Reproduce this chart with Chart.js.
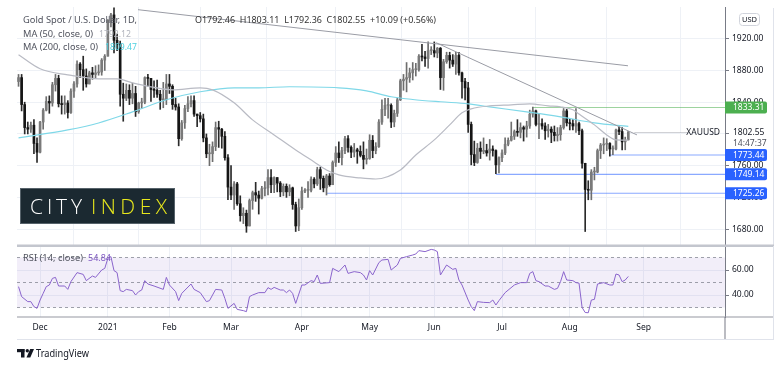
<!DOCTYPE html>
<html>
<head>
<meta charset="utf-8">
<title>Gold Spot / U.S. Dollar, 1D</title>
<script src="https://cdn.jsdelivr.net/npm/chart.js@4.4.1/dist/chart.umd.min.js"></script>
<style>
  html, body { margin: 0; padding: 0; background: #fff; }
  #wrap { position: relative; width: 780px; height: 376px; overflow: hidden; background: #fff; }
  canvas { position: absolute; left: 0; }
  #main { top: 0; }
  #rsi { top: 246px; }
</style>
</head>
<body>
<div id="wrap">
  <canvas id="main" width="780" height="246" style="width:780px;height:246px"></canvas>
  <canvas id="rsi" width="780" height="130" style="width:780px;height:130px"></canvas>
</div>
<script>
const FONT = '"Noto Sans", "DejaVu Sans", sans-serif';
const GRID = '#eef1f6';
const AXIS = '#787b86';
const TEXT = '#131722';

// daily candles, 20 Nov 2020 .. 27 Aug 2021 (bar index 0..198)
const opens = [
  1866,1871,1837,1808,1806,1811,1788,1777,1815,1830,
  1841,1839,1862,1870,1838,1837,1839,1827,1854,1863,
  1888,1881,1873,1863,1877,1875,1877,1878,1893,1898,
  1943,1950,1918,1913,1850,1845,1855,1845,1851,1828,
  1839,1840,1871,1870,1856,1855,1850,1843,1843,1863,
  1860,1837,1834,1794,1814,1832,1838,1842,1825,1823,
  1819,1795,1775,1775,1784,1808,1806,1797,1770,1733,
  1723,1737,1712,1697,1700,1684,1716,1726,1723,1719,
  1731,1732,1745,1736,1745,1738,1727,1734,1727,1732,
  1711,1684,1707,1728,1729,1729,1743,1737,1755,1744,
  1732,1747,1736,1764,1776,1770,1779,1794,1783,1777,
  1780,1778,1773,1768,1769,1792,1779,1784,1815,1831,
  1836,1836,1815,1826,1843,1867,1869,1871,1877,1881,
  1881,1898,1897,1895,1905,1905,1902,1908,1871,1891,
  1899,1893,1888,1899,1877,1866,1858,1812,1774,1764,
  1782,1778,1779,1776,1781,1779,1761,1770,1776,1787,
  1792,1797,1803,1802,1808,1806,1810,1825,1829,1812,
  1813,1810,1804,1806,1802,1798,1799,1808,1829,1814,
  1813,1810,1813,1804,1763,1730,1729,1752,1752,1779,
  1786,1787,1788,1781,1781,1805,1803,1790,1792.46
];
const highs = [
  1875,1875,1840,1815,1815,1818,1795,1816,1832,1847,
  1848,1865,1875,1874,1848,1848,1842,1857,1866,1892,
  1890,1898,1882,1879,1884,1886,1887,1895,1900,1944,
  1952,1959,1926,1917,1864,1863,1862,1864,1860,1840,
  1845,1872,1875,1870,1867,1868,1855,1865,1875,1875,
  1862,1845,1838,1817,1836,1847,1848,1848,1825,1827,
  1825,1800,1787,1790,1815,1816,1807,1803,1774,1760,
  1740,1739,1722,1707,1704,1718,1728,1739,1728,1734,
  1740,1755,1755,1746,1745,1740,1737,1737,1736,1733,
  1714,1718,1733,1731,1740,1746,1745,1758,1758,1747,
  1749,1750,1766,1784,1790,1783,1797,1798,1785,1788,
  1782,1785,1790,1781,1799,1798,1789,1818,1843,1845,
  1845,1838,1830,1845,1869,1875,1890,1883,1890,1889,
  1900,1913,1904,1916,1910,1916,1909,1909,1894,1903,
  1903,1900,1903,1903,1878,1870,1865,1815,1791,1788,
  1790,1795,1787,1793,1785,1780,1771,1780,1795,1795,
  1815,1805,1818,1814,1810,1816,1830,1834,1830,1825,
  1819,1814,1812,1809,1810,1808,1811,1832,1831,1819,
  1818,1832,1815,1806,1763,1741,1755,1758,1781,1788,
  1795,1794,1789,1785,1806,1809,1808,1796,1803.11
];
const lows = [
  1860,1829,1800,1800,1802,1775,1764,1776,1806,1829,
  1826,1835,1854,1834,1825,1825,1820,1826,1846,1859,
  1871,1855,1859,1863,1869,1870,1874,1874,1880,1898,
  1935,1902,1905,1835,1816,1842,1837,1838,1822,1826,
  1832,1838,1860,1841,1846,1846,1831,1833,1837,1851,
  1831,1830,1785,1792,1807,1828,1834,1822,1809,1815,
  1790,1770,1760,1765,1779,1783,1782,1767,1717,1717,
  1705,1710,1690,1687,1676,1684,1705,1715,1699,1718,
  1722,1723,1726,1726,1727,1721,1722,1720,1722,1705,
  1677,1678,1705,1726,1720,1727,1732,1735,1730,1727,
  1723,1734,1736,1759,1764,1761,1775,1777,1770,1771,
  1763,1771,1756,1762,1768,1770,1775,1783,1812,1823,
  1820,1808,1809,1822,1842,1855,1853,1865,1868,1873,
  1879,1892,1885,1883,1900,1897,1896,1856,1855,1889,
  1883,1885,1875,1874,1845,1843,1802,1761,1760,1763,
  1769,1775,1772,1767,1772,1750,1751,1765,1774,1785,
  1791,1793,1797,1795,1791,1796,1807,1821,1810,1794,
  1806,1793,1796,1789,1791,1791,1792,1806,1810,1805,
  1805,1802,1799,1757,1677,1717,1717,1742,1751,1769,
  1775,1779,1772,1774,1780,1799,1780,1780,1792.36
];
const closes = [
  1871,1837,1808,1806,1811,1788,1777,1815,1830,1841,
  1839,1862,1870,1838,1837,1839,1827,1854,1863,1888,
  1881,1873,1863,1877,1875,1877,1878,1893,1898,1943,
  1950,1918,1913,1850,1845,1855,1845,1851,1828,1839,
  1840,1871,1870,1856,1855,1850,1843,1843,1863,1860,
  1837,1834,1794,1814,1832,1838,1842,1825,1823,1819,
  1795,1775,1775,1784,1808,1806,1797,1770,1733,1723,
  1737,1712,1697,1700,1684,1716,1726,1723,1719,1731,
  1732,1745,1736,1745,1738,1727,1734,1727,1732,1711,
  1684,1707,1728,1729,1729,1743,1737,1755,1744,1732,
  1747,1736,1764,1776,1770,1779,1794,1783,1777,1780,
  1778,1773,1768,1769,1792,1779,1784,1815,1831,1836,
  1836,1815,1826,1843,1867,1869,1871,1877,1881,1881,
  1898,1897,1895,1905,1905,1902,1908,1871,1891,1899,
  1893,1888,1899,1877,1866,1858,1812,1774,1764,1782,
  1778,1779,1776,1781,1779,1761,1770,1776,1787,1792,
  1797,1803,1802,1808,1806,1810,1825,1829,1812,1813,
  1810,1804,1806,1802,1798,1799,1808,1829,1814,1813,
  1810,1813,1804,1763,1730,1729,1752,1752,1779,1786,
  1787,1788,1781,1781,1805,1803,1790,1792.46,1802.55
];

// moving averages at a handful of bars
const ma50Bar = [0,7,16,26,32,37,43,50,59,63,70,76,83,90,96,100,104,111,116,124,129,135,140,144,147,153,160,166,172,176,180,182,187,191,194,198];
const ma50Value = [1899.8,1882.1,1874.5,1869.5,1869.5,1864.4,1859.4,1855.6,1858.1,1855.6,1839.2,1817.7,1798.8,1779.8,1764.7,1754.6,1748.3,1744.5,1743.2,1754.6,1773.5,1792.5,1811.4,1826.6,1831.6,1835.4,1836.7,1837.9,1835.4,1834.1,1830.4,1825,1811.4,1798.8,1792.5,1792.12];
const ma200Bar = [0,16,26,37,48,59,70,78,88,104,113,121,128,137,146,153,165,176,187,198];
const ma200Value = [1795.0,1805.1,1813.9,1827.8,1843.0,1853.1,1858.1,1858.1,1859.4,1858.1,1854.3,1846.8,1843.5,1840.5,1837.9,1834.1,1827.8,1821.5,1813.9,1809.47];

// RSI (14, close)
const rsiBar = [0,1,3,4,5,6,7,8,9,10,11,12,13,15,16,17,19,21,22,24,25,27,28,29,30,31,32,33,34,35,37,38,39,40,41,42,44,47,48,49,51,52,53,56,57,59,61,62,64,66,67,68,70,71,73,74,75,76,78,80,81,82,83,85,86,87,88,89,90,92,93,95,96,97,98,101,102,104,106,107,109,111,112,113,114,115,117,118,120,121,123,124,126,128,129,130,132,134,135,136,137,139,141,142,143,144,146,147,148,149,151,153,154,155,156,158,161,163,165,166,167,168,169,171,172,174,175,176,177,178,180,181,182,183,184,185,186,187,188,190,192,193,194,195,196,197,198];
const rsiValue = [46.7,38.7,34.7,34.7,30.7,29.3,36,41.3,46.7,48,53.3,54.1,47.2,47.2,44.5,50.7,57.9,56.5,51.5,55.2,54.1,60,61.3,69.3,70.7,59.5,57.9,43.5,42.7,44.5,43.5,40,42.7,44,51.5,48.8,47.2,44.5,54.1,48,42.7,35.5,41.3,48.8,44.5,41.9,34.7,35.5,44.5,44,37.3,29.3,33.3,28.5,27.5,26.7,38.7,40,41.9,41.9,45.9,44.5,46.1,44,44,41.9,44,41.3,33.3,48,48,51.5,50.7,56,49.3,49.9,61.3,58.7,64,57.3,58.7,57.9,56,52,59.5,56,65.9,68,68.5,60,64,69.3,70.7,72,72.8,75.5,74.7,76.5,76,74.7,56,64,60.5,61.3,52,48,36,30.7,27.5,34.7,34.1,33.9,36,32,35.5,41.9,48,49.9,49.9,57.3,58.7,51.5,50.7,47.2,47.2,44.5,45.3,50.7,58.7,52,51.5,49.9,49.5,30,26,25.8,36,36.5,48.8,49.9,48,48,56.8,56,50.7,52,54.84];
const rsiLevels = [70, 50, 30];
const rsiTicks = [40, 60];

// drawn levels and trendlines
const levelPrice = [1833.31, 1773.44, 1749.14, 1725.26];
const levelFrom = [167, 192, 155, 100];
const levelColor = ['#4caf50', '#2962ff', '#2962ff', '#2962ff'];
const levelLine = ['rgba(76,175,80,0.55)', 'rgba(41,98,255,0.55)', 'rgba(41,98,255,0.55)', 'rgba(41,98,255,0.55)'];
const trendBars = [[38.8, 197.9], [135.6, 200.8]];
const trendPrices = [[1956.6, 1885.9], [1915, 1798.8]];

const monthBars = [7, 29, 49, 69, 92, 114, 135, 157, 179, 203];
const monthNames = ['Dec', '2021', 'Feb', 'Mar', 'Apr', 'May', 'Jun', 'Jul', 'Aug', 'Sep'];
const priceTicks = [1680, 1720, 1760, 1800, 1840, 1880, 1920];

const X_MIN = -0.5, X_MAX = 229.4;
const UP = '#7a7a7a', DOWN = '#151515';

const pts = (xs, ys) => xs.map((x, k) => ({ x: x, y: ys[k] }));
const noPad = s => { s.paddingTop = 0; s.paddingBottom = 0; s.paddingLeft = 0; s.paddingRight = 0; };

// squeeze or stretch a string to a given width
function fitText(ctx, text, x, y, width) {
  const w = ctx.measureText(text).width;
  ctx.save();
  ctx.translate(x, y);
  ctx.scale(width / w, 1);
  ctx.fillText(text, 0, 0);
  ctx.restore();
}

// spread letters evenly over a given width
function spreadText(ctx, text, x, y, width) {
  const chars = text.split('');
  let total = 0;
  chars.forEach(ch => { total += ctx.measureText(ch).width; });
  const gap = (width - total) / (chars.length - 1);
  let cx = x;
  chars.forEach(ch => {
    ctx.fillText(ch, cx, y);
    cx += ctx.measureText(ch).width + gap;
  });
}

const bars = closes.map((c, i) => i);
const lastPrice = closes[closes.length - 1];

const mainDeco = {
  id: 'mainDeco',
  afterDraw(chart) {
    const ctx = chart.ctx;
    const ys = chart.scales.y, xs = chart.scales.x;
    const right = chart.chartArea.right;
    ctx.save();

    // frame bits
    ctx.fillStyle = '#e0e3eb';
    ctx.fillRect(773, 8, 1, 246);
    ctx.fillStyle = '#c3c6ce';
    ctx.fillRect(17, 244.5, 757, 1.5);

    // legend
    ctx.textBaseline = 'alphabetic';
    ctx.font = '9.5px ' + FONT;
    ctx.fillStyle = '#50535e';
    fitText(ctx, 'Gold Spot / U.S. Dollar, 1D,', 23, 22.5, 114);
    ctx.fillStyle = '#333';
    fitText(ctx, 'O1792.46  H1803.11  L1792.36  C1802.55  +10.09 (+0.56%)', 195, 22.5, 241);
    ctx.fillStyle = '#50535e';
    fitText(ctx, 'MA (50, close, 0)', 23, 36.5, 70);
    fitText(ctx, 'MA (200, close, 0)', 23, 50, 75);
    ctx.fillStyle = '#b2b5be';
    fitText(ctx, '1792.12', 99, 36.5, 32);
    ctx.fillStyle = '#4dd0e1';
    fitText(ctx, '1809.47', 105, 50, 32);

    // City Index logo
    ctx.fillStyle = '#1b2931';
    ctx.fillRect(20, 188, 155, 36);
    ctx.strokeStyle = '#56626a';
    ctx.lineWidth = 1;
    ctx.strokeRect(20.5, 188.5, 154, 35);
    ctx.font = '300 21px "Open Sans", ' + FONT;
    ctx.fillStyle = '#ffffff';
    spreadText(ctx, 'CITY', 30, 214, 52);
    ctx.fillStyle = '#e8e81c';
    spreadText(ctx, 'INDEX', 91, 214, 76);

    // last price line and label
    const yLast = ys.getPixelForValue(lastPrice);
    const xLast = xs.getPixelForValue(bars.length - 1);
    ctx.fillStyle = 'rgba(120,123,134,0.35)';
    ctx.fillRect(xLast + 6, Math.round(yLast), 688 - xLast - 6, 1);
    ctx.font = '8.5px ' + FONT;
    ctx.textBaseline = 'middle';
    ctx.fillStyle = TEXT;
    ctx.textAlign = 'right';
    ctx.fillText('XAUUSD', 720, yLast + 1);
    ctx.textAlign = 'left';
    ctx.fillStyle = '#fff';
    ctx.fillRect(731, yLast - 6, 40, 22);
    ctx.fillStyle = TEXT;
    ctx.fillText(lastPrice.toFixed(2), 733, yLast + 1);
    ctx.fillStyle = '#50535e';
    ctx.fillText('14:47:37', 733, yLast + 11.5);

    // level badges
    levelPrice.forEach((p, k) => {
      const y = ys.getPixelForValue(p);
      ctx.fillStyle = levelColor[k];
      ctx.beginPath();
      ctx.roundRect(right, y - 6, 42, 12, [0, 2, 2, 0]);
      ctx.fill();
      ctx.fillStyle = '#fff';
      ctx.fillText(p.toFixed(2), 733, y + 0.5);
    });

    // currency box
    ctx.strokeStyle = '#d1d4dc';
    ctx.beginPath();
    ctx.roundRect(739.5, 13.5, 20, 12, 3);
    ctx.stroke();
    ctx.fillStyle = TEXT;
    ctx.font = '7.5px ' + FONT;
    ctx.textAlign = 'center';
    ctx.fillText('USD', 749.5, 20);
    ctx.restore();
  }
};

const rsiDeco = {
  id: 'rsiDeco',
  afterDraw(chart) {
    const ctx = chart.ctx;
    ctx.save();
    ctx.fillStyle = '#c3c6ce';
    ctx.fillRect(17, 0, 757, 1);
    ctx.fillStyle = '#9598a1';
    ctx.fillRect(17, 70.5, 757, 1);
    ctx.fillStyle = AXIS;
    ctx.fillRect(724.5, 71, 1, 22);
    ctx.fillStyle = '#e0e3eb';
    ctx.fillRect(17, 93, 757, 1);
    ctx.fillRect(773, 0, 1, 94);

    ctx.textBaseline = 'alphabetic';
    ctx.font = '9.5px ' + FONT;
    ctx.fillStyle = '#50535e';
    fitText(ctx, 'RSI (14, close)', 23, 14.5, 60);
    ctx.fillStyle = '#7e57c2';
    fitText(ctx, rsiValue[rsiValue.length - 1].toFixed(2), 88, 14.5, 23);

    // TradingView mark
    ctx.fillStyle = TEXT;
    ctx.fillRect(17, 103, 7.5, 3.2);
    ctx.fillRect(21, 103, 3.5, 8.5);
    ctx.beginPath();
    ctx.arc(27.3, 104.7, 1.7, 0, Math.PI * 2);
    ctx.fill();
    ctx.beginPath();
    ctx.moveTo(30.2, 103);
    ctx.lineTo(34, 103);
    ctx.lineTo(30.3, 111.5);
    ctx.lineTo(26.5, 111.5);
    ctx.closePath();
    ctx.fill();
    ctx.font = '11px ' + FONT;
    fitText(ctx, 'TradingView', 36, 111, 53);
    ctx.restore();
  }
};

const monthAxis = {
  type: 'linear', min: X_MIN, max: X_MAX, offset: false,
  afterBuildTicks: s => { s.ticks = monthBars.map(v => ({ value: v })); },
  grid: { color: GRID, drawTicks: false },
  border: { display: false }
};

new Chart(document.getElementById('main'), {
  type: 'bar',
  data: {
    datasets: [
      {
        label: 'wick', data: pts(bars, bars.map(i => [lows[i], highs[i]])),
        backgroundColor: bars.map(i => closes[i] >= opens[i] ? '#6e6e6e' : '#2a2a2a'),
        barThickness: 1, grouped: false, order: 4
      },
      {
        label: 'body', data: pts(bars, bars.map(i => [opens[i], closes[i]])),
        backgroundColor: bars.map(i => closes[i] >= opens[i] ? UP : DOWN),
        barThickness: 2, minBarLength: 1, grouped: false, order: 3
      },
      {
        type: 'line', label: 'MA 50', data: pts(ma50Bar, ma50Value),
        borderColor: '#b9bbc4', borderWidth: 1.2, pointRadius: 0, cubicInterpolationMode: 'monotone', order: 2
      },
      {
        type: 'line', label: 'MA 200', data: pts(ma200Bar, ma200Value),
        borderColor: '#7fd8e8', borderWidth: 1.1, pointRadius: 0, cubicInterpolationMode: 'monotone', order: 2
      },
      ...trendBars.map((tb, k) => ({
        type: 'line', label: 'trend ' + k, data: pts(tb, trendPrices[k]),
        borderColor: '#9a9ca5', borderWidth: 1, pointRadius: 0, order: 1
      })),
      ...levelPrice.map((p, k) => ({
        type: 'line', label: 'level ' + p, data: pts([levelFrom[k], X_MAX], [p, p]),
        borderColor: levelLine[k], borderWidth: 1.2, pointRadius: 0, order: 5
      }))
    ]
  },
  options: {
    responsive: false, animation: false, devicePixelRatio: 1,
    layout: { padding: { left: 17, right: 6, top: 7, bottom: 1 } },
    plugins: { legend: { display: false }, tooltip: { enabled: false } },
    scales: {
      x: Object.assign({}, monthAxis, {
        ticks: { display: false },
        afterFit: s => { s.height = 0; noPad(s); }
      }),
      y: {
        position: 'right', min: 1660, max: 1960, beginAtZero: false,
        afterBuildTicks: s => { s.ticks = priceTicks.map(v => ({ value: v })); },
        ticks: { font: { family: FONT, size: 8.5 }, color: TEXT, padding: 3, callback: v => v.toFixed(2) },
        grid: { color: GRID, tickLength: 4, tickColor: AXIS },
        border: { color: AXIS },
        afterFit: s => { s.width = 49; noPad(s); }
      }
    }
  },
  plugins: [mainDeco]
});

new Chart(document.getElementById('rsi'), {
  type: 'line',
  data: {
    datasets: [
      {
        label: 'RSI', data: pts(rsiBar, rsiValue),
        borderColor: '#8a64cc', borderWidth: 1, pointRadius: 0, tension: 0, order: 0
      },
      ...rsiLevels.map((lv, k) => ({
        label: 'band ' + lv, data: pts([X_MIN, X_MAX], [lv, lv]),
        borderColor: 'rgba(120,123,134,0.7)', borderWidth: 1, borderDash: [3, 3], pointRadius: 0,
        fill: k === rsiLevels.length - 1 ? { target: 1 } : false,
        backgroundColor: 'rgba(126,87,194,0.1)', order: 1
      }))
    ]
  },
  options: {
    responsive: false, animation: false, devicePixelRatio: 1,
    layout: { padding: { left: 17, right: 6, top: 1, bottom: 37 } },
    plugins: { legend: { display: false }, tooltip: { enabled: false } },
    scales: {
      x: Object.assign({}, monthAxis, {
        ticks: {
          font: { family: FONT, size: 8.5 }, color: TEXT, padding: 5, autoSkip: false, maxRotation: 0,
          callback: v => monthNames[monthBars.indexOf(v)]
        },
        afterFit: s => { s.height = 22; noPad(s); }
      }),
      y: {
        position: 'right', min: 22.4, max: 78.4, beginAtZero: false,
        afterBuildTicks: s => { s.ticks = rsiTicks.map(v => ({ value: v })); },
        ticks: { font: { family: FONT, size: 8.5 }, color: TEXT, padding: 3, callback: v => v.toFixed(2) },
        grid: { color: GRID, tickLength: 4, tickColor: AXIS },
        border: { color: AXIS },
        afterFit: s => { s.width = 49; noPad(s); }
      }
    }
  },
  plugins: [rsiDeco]
});
</script>
</body>
</html>
